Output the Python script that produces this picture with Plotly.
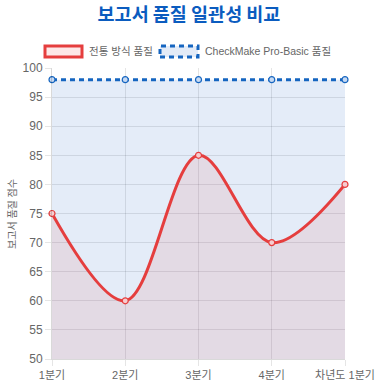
import plotly.graph_objects as go

categories = ["1분기", "2분기", "3분기", "4분기", "차년도 1분기"]
traditional = [75, 60, 85, 70, 80]
checkmake = [98, 98, 98, 98, 98]
y_ticks = [50, 55, 60, 65, 70, 75, 80, 85, 90, 95, 100]

RED = "#e53e3e"
BLUE = "#1565c0"
GREY = "#666666"
FONT = "Liberation Sans, Noto Sans CJK KR, sans-serif"

fig = go.Figure()
fig.add_trace(go.Scatter(
    x=categories, y=checkmake, mode="lines+markers",
    line=dict(color=BLUE, width=3, dash="5px,4px"),
    marker=dict(size=6, color="rgba(200,218,242,1)", line=dict(color=BLUE, width=1.2)),
    fill="tozeroy", fillcolor="rgba(30,100,200,0.12)",
    showlegend=False, cliponaxis=False,
))
fig.add_trace(go.Scatter(
    x=categories, y=traditional, mode="lines+markers",
    line=dict(color=RED, width=3, shape="spline", smoothing=1.0),
    marker=dict(size=6, color="rgba(246,205,208,1)", line=dict(color=RED, width=1.2)),
    fill="tozeroy", fillcolor="rgba(229,62,62,0.10)",
    showlegend=False, cliponaxis=False,
))

W, H = 378, 385
L, T = 52, 68
R = W - 345
B = H - 359
pw, ph = W - L - R, H - T - B

def px(x):
    return (x - L) / pw

def py(y):
    return (H - B - y) / ph

shapes = [
    dict(type="rect", xref="paper", yref="paper", x0=px(45), x1=px(82), y0=py(57), y1=py(46),
         line=dict(color=RED, width=3), fillcolor="#fde8e8", layer="above"),
    dict(type="rect", xref="paper", yref="paper", x0=px(160), x1=px(198), y0=py(57), y1=py(46),
         line=dict(color=BLUE, width=3, dash="5px,4px"), fillcolor="#e3ebf7", layer="above"),
]
annotations = [
    dict(text="전통 방식 품질", xref="paper", yref="paper", x=px(87), y=py(51.5),
         xanchor="left", yanchor="middle", showarrow=False, font=dict(size=10.5, color=GREY)),
    dict(text="CheckMake Pro-Basic 품질", xref="paper", yref="paper", x=px(203), y=py(51.5),
         xanchor="left", yanchor="middle", showarrow=False, font=dict(size=10.5, color=GREY)),
    dict(text="보고서 품질 점수", xref="paper", yref="paper", x=px(12), y=py(214),
         xanchor="center", yanchor="middle", textangle=-90, showarrow=False,
         font=dict(size=10, color=GREY)),
]

fig.update_layout(
    width=W, height=H,
    margin=dict(l=L, r=R, t=T, b=B, autoexpand=False),
    paper_bgcolor="white", plot_bgcolor="white",
    font=dict(family=FONT, color=GREY, size=11),
    title=dict(text="<b>보고서 품질 일관성 비교</b>", x=189 / W, xref="container",
               xanchor="center", y=1 - 15 / H, yanchor="middle",
               font=dict(size=18.5, color="#0b5cbf", family="Noto Sans CJK KR, sans-serif")),
    shapes=shapes, annotations=annotations,
    hovermode=False,
    xaxis=dict(type="category", range=[0, 4], showgrid=True, gridcolor="rgba(0,0,0,0.1)",
               ticks="outside", ticklen=6, tickcolor="rgba(0,0,0,0.1)", automargin=False,
               showline=True, linecolor="rgba(0,0,0,0.15)", zeroline=False,
               tickfont=dict(size=11, color=GREY)),
    yaxis=dict(range=[50, 100], tickvals=y_ticks, showgrid=True, gridcolor="rgba(0,0,0,0.1)",
               ticks="outside", ticklen=6, tickcolor="rgba(0,0,0,0.1)", automargin=False,
               showline=True, linecolor="rgba(0,0,0,0.15)", zeroline=False,
               tickfont=dict(size=12, color=GREY)),
)

fig.write_html("out.html", config={"displayModeBar": False},
               post_script="document.body.style.margin='0';")
